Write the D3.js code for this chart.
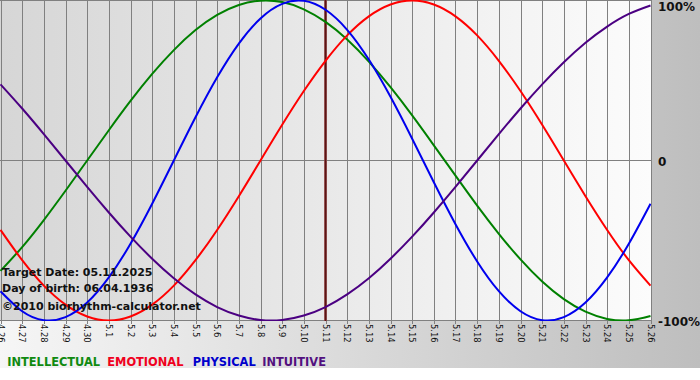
<!DOCTYPE html>
<html><head><meta charset="utf-8">
<script src="https://cdn.jsdelivr.net/npm/d3@7"></script>
<style>html,body{margin:0;padding:0;background:#fff;}svg{display:block;}</style>
</head><body>
<svg id="c" width="700" height="380"></svg>
<script>
const dayLabels = ["4.26","4.27","4.28","4.29","4.30","5.1","5.2","5.3","5.4","5.5","5.6","5.7","5.8","5.9","5.10","5.11","5.12","5.13","5.14","5.15","5.16","5.17","5.18","5.19","5.20","5.21","5.22","5.23","5.24","5.25","5.26"];
const targetIndex = 15;
const intellectual = [-0.690,-0.541,-0.372,-0.189,0,0.189,0.372,0.541,0.690,0.815,0.910,0.972,0.999,0.990,0.945,0.866,0.756,0.618,0.458,0.282,0.095,-0.095,-0.282,-0.458,-0.618,-0.756,-0.866,-0.945,-0.990,-0.999,-0.972];
const emotional = [-0.434,-0.623,-0.782,-0.901,-0.975,-1,-0.975,-0.901,-0.782,-0.623,-0.434,-0.223,0,0.223,0.434,0.623,0.782,0.901,0.975,1,0.975,0.901,0.782,0.623,0.434,0.223,0,-0.223,-0.434,-0.623,-0.782];
const physical = [-0.817,-0.942,-0.998,-0.979,-0.888,-0.731,-0.520,-0.270,0,0.270,0.520,0.731,0.888,0.979,0.998,0.942,0.817,0.631,0.398,0.136,-0.136,-0.398,-0.631,-0.817,-0.942,-0.998,-0.979,-0.888,-0.731,-0.520,-0.270];
const intuitive = [0.476,0.325,0.165,0,-0.165,-0.325,-0.476,-0.614,-0.736,-0.837,-0.916,-0.969,-0.997,-0.997,-0.969,-0.916,-0.837,-0.736,-0.614,-0.476,-0.325,-0.165,0,0.165,0.325,0.476,0.614,0.736,0.837,0.916,0.969];
const seriesNames = ["INTELLECTUAL","EMOTIONAL","PHYSICAL","INTUITIVE"];
const yTickValues = [1,0,-1];
const yTickLabels = ["100%","0","-100%"];
const infoLines = ["Target Date: 05.11.2025","Day of birth: 06.04.1936","\u00A92010 biorhythm-calculator.net"];

const series = [
  {name:seriesNames[0], values:intellectual, color:"#008000", text:"#108a10"},
  {name:seriesNames[1], values:emotional, color:"#ff0000", text:"#f00020"},
  {name:seriesNames[2], values:physical, color:"#0000ee", text:"#0000cc"},
  {name:seriesNames[3], values:intuitive, color:"#4b0082", text:"#52107f"}
];

const svg = d3.select("#c");
const defs = svg.append("defs");
const bgGrad = defs.append("linearGradient").attr("id","bg").attr("x1","0").attr("x2","1").attr("y1","0").attr("y2","0");
bgGrad.append("stop").attr("offset","0").attr("stop-color","#f6f6f6");
bgGrad.append("stop").attr("offset","1").attr("stop-color","#bebebe");
const plotGrad = defs.append("linearGradient").attr("id","pg").attr("x1","0").attr("x2","1").attr("y1","0").attr("y2","0");
plotGrad.append("stop").attr("offset","0").attr("stop-color","#d6d6d6");
plotGrad.append("stop").attr("offset","1").attr("stop-color","#fcfcfc");

const W = 700, H = 380;
const x = d3.scaleLinear().domain([0, dayLabels.length-1]).range([0.5, 650.5]);
const y = d3.scaleLinear().domain([-1,1]).range([320.5, 0.5]);

svg.append("rect").attr("x",0).attr("y",0).attr("width",W).attr("height",368).attr("fill","url(#bg)");
svg.append("rect").attr("x",0).attr("y",0).attr("width",651).attr("height",321).attr("fill","url(#pg)");

defs.append("clipPath").attr("id","clip").append("rect").attr("x",0).attr("y",0).attr("width",651).attr("height",321);

// vertical grid lines
svg.append("g").selectAll("line").data(dayLabels).join("line")
  .attr("x1",(d,i)=>Math.round(x(i))+0.5).attr("x2",(d,i)=>Math.round(x(i))+0.5)
  .attr("y1",0).attr("y2",324)
  .attr("stroke","#808080").attr("stroke-width",1);
// horizontal lines
svg.append("g").selectAll("line").data(yTickValues).join("line")
  .attr("x1",0).attr("x2",651).attr("y1",d=>y(d)).attr("y2",d=>y(d))
  .attr("stroke","#808080").attr("stroke-width",1);

// target line
svg.append("line").attr("x1",x(targetIndex)).attr("x2",x(targetIndex)).attr("y1",0).attr("y2",321)
  .attr("stroke","#a05050").attr("stroke-width",2.6);
svg.append("line").attr("x1",x(targetIndex)).attr("x2",x(targetIndex)).attr("y1",0).attr("y2",321)
  .attr("stroke","#5a1414").attr("stroke-width",1.6);

const line = d3.line().x((d,i)=>x(i)).y(d=>y(d)).curve(d3.curveNatural);
const lg = svg.append("g").attr("clip-path","url(#clip)");
series.forEach(s=>{
  lg.append("path").attr("d",line(s.values)).attr("fill","none")
    .attr("stroke",s.color).attr("stroke-width",2);
});

// info text
svg.append("g").selectAll("text").data(infoLines).join("text")
  .attr("x",2).attr("y",(d,i)=>[276,292,310][i])
  .attr("font-family","DejaVu Sans, Verdana, sans-serif").attr("font-weight","bold")
  .attr("font-size",11).attr("fill","#111").text(d=>d);

// x labels
svg.append("g").selectAll("text").data(dayLabels).join("text")
  .attr("transform",(d,i)=>`translate(${x(i)},324) rotate(90)`)
  .attr("dy","0.35em").attr("text-anchor","start")
  .attr("font-family","DejaVu Sans, Verdana, sans-serif").attr("font-size",8.4)
  .attr("fill","#111").text(d=>d);

// y labels
svg.append("g").selectAll("text").data(yTickValues).join("text")
  .attr("x",658).attr("y",(d,i)=>Math.max(7, y(d)+1.5)).attr("dy","0.36em")
  .attr("font-family","DejaVu Sans, Verdana, sans-serif").attr("font-weight","bold")
  .attr("font-size",12).attr("fill","#111").text((d,i)=>yTickLabels[i]);

// legend
const legendX = [7.3,107.3,192.7,262.3];
svg.append("g").selectAll("text").data(series).join("text")
  .attr("x",(d,i)=>legendX[i]).attr("y",366)
  .attr("font-family","DejaVu Sans, Verdana, sans-serif").attr("font-weight","bold")
  .attr("font-size",11.4).attr("fill",d=>d.text).text(d=>d.name);
</script>
</body></html>
